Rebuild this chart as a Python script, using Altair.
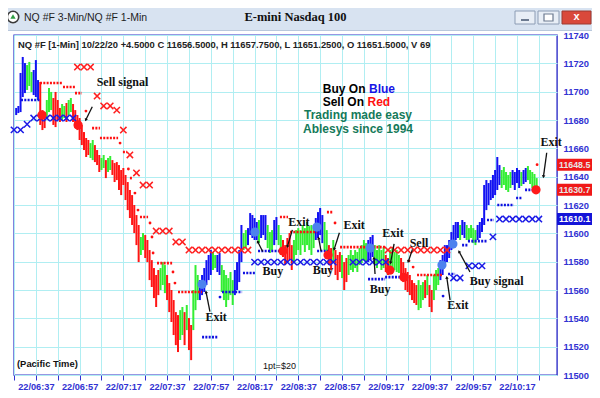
import math
import altair as alt
import pandas as pd

# ---------------- data ----------------
bar_start_minute = 388  # first 1-min bar, minutes after midnight (06:28)

bar_high = [
    11688.5, 11689.9, 11713.2, 11724.5, 11720.2, 11718.8, 11721.0, 11713.9, 11715.3, 11722.3,
    11708.2, 11706.8, 11687.0, 11685.6, 11694.1, 11702.6, 11699.8, 11695.5, 11699.8, 11694.1,
    11688.5, 11691.3, 11689.9, 11692.0, 11694.1, 11695.5, 11691.3, 11687.0, 11683.5, 11681.4,
    11676.5, 11671.5, 11667.3, 11665.9, 11663.7, 11665.9, 11662.3, 11658.8, 11655.3, 11653.2,
    11655.3, 11651.7, 11653.2, 11654.6, 11651.7, 11649.6, 11650.3, 11648.2, 11644.7, 11646.1,
    11641.2, 11636.2, 11630.6, 11627.0, 11620.0, 11612.9, 11605.9, 11597.4, 11600.2, 11598.8,
    11595.3, 11588.2, 11581.1, 11575.5, 11570.6, 11574.1, 11575.5, 11579.7, 11577.6, 11570.6,
    11564.9, 11560.0, 11552.9, 11544.4, 11542.3, 11545.8, 11548.0, 11544.4, 11549.4, 11540.2,
    11535.3, 11560.0, 11577.6, 11570.6, 11567.0, 11570.6, 11575.5, 11581.1, 11584.7, 11588.2,
    11586.8, 11584.7, 11584.7, 11586.1, 11577.6, 11574.1, 11570.6, 11568.4, 11572.7, 11567.0,
    11574.1, 11579.7, 11588.2, 11605.9, 11600.2, 11602.3, 11603.7, 11614.3, 11612.9, 11610.8,
    11608.0, 11609.4, 11612.9, 11612.9, 11612.9, 11605.9, 11600.9, 11602.3, 11609.4, 11611.5,
    11605.9, 11598.8, 11595.3, 11591.7, 11596.7, 11600.2, 11591.7, 11595.3, 11602.3, 11603.7,
    11602.3, 11605.9, 11603.7, 11608.0, 11605.1, 11605.9, 11603.7, 11610.8, 11615.0, 11617.9,
    11612.9, 11608.0, 11602.3, 11591.7, 11589.6, 11595.3, 11588.2, 11584.7, 11586.8, 11584.7,
    11579.7, 11582.6, 11584.7, 11588.2, 11584.7, 11588.2, 11586.8, 11589.6, 11591.7, 11595.3,
    11593.1, 11595.3, 11597.4, 11598.8, 11591.7, 11588.2, 11591.7, 11588.2, 11590.3, 11584.7,
    11582.6, 11588.2, 11589.6, 11586.8, 11588.2, 11584.7, 11582.6, 11579.7, 11575.5, 11572.7,
    11570.6, 11567.0, 11564.9, 11563.5, 11567.0, 11563.5, 11565.6, 11567.0, 11570.6, 11563.5,
    11560.0, 11570.6, 11574.1, 11575.5, 11581.1, 11584.7, 11591.7, 11591.7, 11595.3, 11600.9,
    11605.9, 11608.0, 11608.0, 11605.9, 11609.4, 11608.0, 11605.9, 11603.7, 11605.9, 11603.7,
    11602.3, 11605.9, 11608.0, 11610.8, 11634.1, 11637.6, 11635.5, 11637.6, 11641.2, 11644.7,
    11653.9, 11648.2, 11644.7, 11646.8, 11643.3, 11641.2, 11643.3, 11644.7, 11643.3, 11646.1,
    11644.7, 11643.3, 11644.7, 11646.1, 11647.5, 11644.7, 11643.3, 11641.9, 11639.0,
]
bar_low = [
    11683.5, 11684.9, 11685.6, 11696.2, 11699.0, 11701.2, 11704.0, 11699.8, 11697.6, 11696.2,
    11694.1, 11676.5, 11672.9, 11674.3, 11681.4, 11685.6, 11687.0, 11676.5, 11675.0, 11680.0,
    11678.6, 11680.0, 11681.4, 11678.6, 11683.5, 11685.6, 11678.6, 11674.3, 11672.9, 11665.9,
    11662.3, 11658.8, 11653.9, 11655.3, 11653.2, 11651.7, 11650.3, 11648.2, 11643.3, 11644.7,
    11646.1, 11639.0, 11643.3, 11644.7, 11641.2, 11636.2, 11637.6, 11630.6, 11627.0, 11634.1,
    11623.5, 11616.4, 11610.8, 11605.9, 11600.2, 11591.7, 11579.7, 11584.7, 11588.2, 11582.6,
    11579.7, 11567.0, 11562.1, 11554.3, 11548.0, 11556.4, 11560.0, 11563.5, 11557.8, 11552.9,
    11544.4, 11537.4, 11528.2, 11521.1, 11516.2, 11524.7, 11528.2, 11521.1, 11531.7, 11517.6,
    11510.5, 11531.7, 11545.8, 11552.9, 11552.9, 11556.4, 11558.6, 11563.5, 11567.0, 11570.6,
    11574.1, 11575.5, 11572.7, 11570.6, 11558.6, 11552.9, 11548.0, 11552.9, 11556.4, 11549.4,
    11556.4, 11560.0, 11565.6, 11579.7, 11588.2, 11589.6, 11591.7, 11598.8, 11596.7, 11595.3,
    11595.3, 11593.1, 11596.7, 11598.8, 11595.3, 11589.6, 11586.1, 11588.2, 11591.7, 11595.3,
    11591.7, 11584.7, 11583.3, 11577.6, 11579.7, 11581.1, 11574.1, 11579.7, 11584.7, 11588.2,
    11584.7, 11591.7, 11586.8, 11591.7, 11588.2, 11584.7, 11589.6, 11595.3, 11596.7, 11598.8,
    11593.1, 11588.2, 11584.7, 11577.6, 11574.1, 11579.7, 11570.6, 11567.0, 11572.7, 11568.4,
    11560.0, 11565.6, 11570.6, 11574.1, 11572.7, 11575.5, 11572.7, 11577.6, 11579.0, 11581.1,
    11579.7, 11579.7, 11581.1, 11583.3, 11577.6, 11575.5, 11579.7, 11574.1, 11575.5, 11572.7,
    11570.6, 11574.1, 11575.5, 11574.1, 11572.7, 11572.0, 11568.4, 11565.6, 11560.0, 11558.6,
    11556.4, 11552.9, 11550.8, 11549.4, 11545.8, 11547.3, 11552.9, 11554.3, 11556.4, 11548.0,
    11544.4, 11552.9, 11560.0, 11563.5, 11567.0, 11570.6, 11577.6, 11579.7, 11582.6, 11588.2,
    11591.7, 11595.3, 11596.7, 11595.3, 11598.8, 11596.7, 11595.3, 11593.9, 11596.7, 11593.1,
    11591.7, 11595.3, 11596.7, 11600.9, 11605.9, 11616.4, 11620.0, 11623.5, 11624.9, 11627.0,
    11630.6, 11634.1, 11632.0, 11634.1, 11630.6, 11629.2, 11632.0, 11634.1, 11630.6, 11635.5,
    11632.0, 11633.4, 11634.8, 11636.2, 11637.6, 11634.8, 11632.0, 11632.0, 11630.6,
]
bar_color_code = "".join([
    "BBBBB", "GGG", "BBB", "RRR", "GGG", "RRRR", "GG", "R", "GG", "RRRRRRRR",
    "GG", "RRR", "GG", "R", "GG", "RRRRRRRRRRRRR", "GG", "RRRRRRR", "GGG", "RRRRRR",
    "GG", "R", "G", "RR", "GGG", "BBBBBB", "GG", "BB", "GGGGGG", "BBBB",
    "GG", "BBBBB", "G", "BBB", "GGG", "BB", "GG", "RRRRR", "GGGGGGGGGG", "BBBB",
    "GG", "RR", "G", "RRR", "G", "RR", "GGGGGGGGG", "BBB", "GGGGG", "RR",
    "GGGGG", "RRRRRRRR", "GGG", "R", "G", "RR", "GGG", "BBBBBBBBB", "G", "BB",
    "GGGGG", "BBBBBBBBBBB", "GGGGG", "BBBB", "G", "BB", "GGGGG",
])

# trailing-stop crosses (3-min series)
red_x_t = [416, 419, 422, 425, 428, 431, 434, 437, 440, 443, 446, 449, 452, 455, 458,
           461, 464, 467, 470, 473, 476, 479, 482, 485, 488, 491, 494,
           558, 561, 564, 567, 570, 573, 576, 579, 582, 585]
red_x_p = [11717.4, 11717.4, 11717.4, 11696.9, 11689.9, 11689.9, 11687.0, 11672.9, 11655.3,
           11642.6, 11634.1, 11634.1, 11601.6, 11601.6, 11601.6, 11593.9, 11593.9,
           11588.2, 11588.2, 11588.2, 11588.2, 11588.2, 11588.2, 11588.2, 11588.2, 11588.2, 11588.2,
           11588.2, 11588.2, 11588.2, 11588.2, 11588.2, 11588.2, 11588.2, 11588.2, 11588.2, 11588.2]
blue_x_t = [387, 390, 393, 396, 399, 402, 405, 408, 411, 414,
            497, 500, 503, 506, 509, 512, 515, 518, 521, 524, 527, 530, 533,
            542, 545, 548, 551, 554, 557,
            588, 591, 595, 598, 601, 606, 609, 612, 615, 618, 621, 624, 627]
blue_x_p = [11673.0, 11673.0, 11677.0, 11681.4, 11681.4, 11681.4, 11681.4, 11681.4, 11681.4, 11681.4,
            11579.7, 11579.7, 11579.7, 11579.7, 11579.7, 11579.7, 11579.7, 11579.7, 11579.7, 11579.7,
            11579.7, 11579.7, 11579.7,
            11579.7, 11579.7, 11579.7, 11579.7, 11579.7, 11579.7,
            11568.5, 11568.5, 11577.0, 11577.0, 11577.0, 11597.5,
            11610.1, 11610.1, 11610.1, 11610.1, 11610.1, 11610.1, 11610.1]

# dotted level segments (start minute, end minute, level)
red_seg_start = [398.9, 409.4, 414.9, 422.7, 426.3, 436.8, 440.0, 444.6, 452.4, 462.0,
                 508.6, 513.2, 530.1, 536.1, 571.3]
red_seg_end = [409.4, 414.9, 418.1, 426.3, 434.6, 438.7, 441.4, 448.3, 459.3, 473.0,
               512.3, 525.6, 532.9, 556.7, 582.7]
red_seg_level = [11706.1, 11703.3, 11699.0, 11674.3, 11667.3, 11657.4, 11639.0, 11611.5, 11579.0, 11558.6,
                 11611.5, 11600.9, 11615.0, 11590.3, 11570.6]
red_dot_t = [419.9, 435.5, 439.3, 442.3, 443.7, 449.2, 450.1, 450.6, 459.7, 460.6, 533.8, 567.6, 569.5, 626.2]
red_dot_p = [11686.3, 11663.7, 11645.4, 11628.4, 11616.4, 11607.3, 11597.4, 11586.1, 11572.7, 11564.9,
             11607.3, 11580.5, 11576.2, 11648.5]

blue_seg_start = [390.2, 473.0, 482.1, 491.7, 498.6, 525.6, 548.9, 556.7, 585.5, 591.9, 594.6, 603.3, 608.0, 616.6, 620.7]
blue_seg_end = [398.9, 480.3, 491.3, 497.2, 510.0, 530.6, 556.7, 563.5, 588.7, 594.6, 603.3, 606.5, 615.6, 619.3, 625.7]
blue_seg_level = [11694.1, 11526.7, 11558.6, 11572.0, 11587.5, 11587.5, 11567.7, 11569.1, 11571.3, 11591.7,
                  11594.5, 11609.4, 11620.0, 11624.9, 11630.7]
blue_dot_t = [481.2, 583.2]
blue_dot_p = [11555.0, 11555.7]

# signal circles
red_sig_t = [399.8, 416.3, 510.0, 530.6, 558.9, 565.3, 625.7]
red_sig_p = [11683.5, 11676.5, 11587.5, 11584.7, 11574.0, 11569.0, 11630.7]
blue_sig_t = [473.0, 497.2, 525.5, 549.8, 582.7, 587.7]
blue_sig_p = [11564.0, 11600.9, 11604.4, 11589.6, 11577.6, 11592.4]

# annotations
ann_text = ["Sell signal", "Exit", "Buy", "Exit", "Buy", "Exit", "Exit", "Buy", "Sell", "Exit", "Buy signal", "Exit"]
ann_t = [436.6, 479.4, 505.4, 517.3, 528.3, 542.5, 560.3, 554.4, 572.2, 590.0, 607.7, 632.6]
ann_p = [11706.8, 11540.9, 11573.4, 11608.0, 11574.1, 11605.9, 11600.2, 11560.7, 11593.1, 11549.4, 11566.3, 11664.2]
arr_t0 = [422.8, 476.6, 500.7, 514.3, 527.4, 535.8, 560.8, 552.1, 569.2, 586.4, 595.5, 630.6]
arr_p0 = [11689.4, 11544.7, 11587.2, 11602.4, 11587.5, 11600.4, 11592.5, 11571.3, 11588.7, 11552.9, 11572.7, 11656.9]
arr_t1 = [419.8, 474.8, 498.4, 512.0, 526.3, 533.4, 559.2, 551.6, 567.3, 584.9, 590.5, 629.1]
arr_p1 = [11680.0, 11558.6, 11594.2, 11590.6, 11596.7, 11588.7, 11579.1, 11582.6, 11580.0, 11568.9, 11587.2, 11640.0]

# price flags on the right
flag_value = [11648.5, 11630.7, 11610.1]
flag_label = ["11648.5", "11630.7", "11610.1"]
flag_fill = ["#f01818", "#f01818", "#1414d8"]
flag_text = ["#e6e6e6", "#e6e6e6", "#ffffff"]

# axes
x_tick_values = list(range(387, 636, 10))
x_label_values = [397, 417, 437, 457, 477, 497, 517, 537, 557, 577, 597, 617]
x_labels = ["22/06:37", "22/06:57", "22/07:17", "22/07:37", "22/07:57", "22/08:17",
            "22/08:37", "22/08:57", "22/09:17", "22/09:37", "22/09:57", "22/10:17"]
y_tick_values = list(range(11500, 11741, 20))

# ---------------- styling ----------------
W, H = 543, 340
X_DOM = [387, 635.3]
Y_DOM = [11500, 11740]
PX_MIN = W / (X_DOM[1] - X_DOM[0])
PX_PT = H / (Y_DOM[1] - Y_DOM[0])
AXBLUE = "#3232d2"
BORDER = "#3030c8"
GRID = "#b0eef2"
SANS = "Liberation Sans"
SERIF = "Liberation Serif"

n = min(len(bar_high), len(bar_low), len(bar_color_code))
bars = pd.DataFrame({
    "t": [bar_start_minute + i for i in range(n)],
    "hi": bar_high[:n], "lo": bar_low[:n], "c": list(bar_color_code[:n]),
})

lab_expr = ("indexof(" + str(x_label_values) + ", datum.value) >= 0 ? "
            + str(x_labels).replace("'", '"') + "[indexof(" + str(x_label_values) + ", datum.value)] : ''")

xs = alt.Scale(domain=X_DOM, nice=False, zero=False)
ys = alt.Scale(domain=Y_DOM, nice=False, zero=False)
x_axis = alt.Axis(values=x_tick_values, labelExpr=lab_expr, orient="bottom", grid=True,
                  gridColor=GRID, tickColor=AXBLUE, tickSize=5, domain=False,
                  labelColor=AXBLUE, labelFont=SANS, labelFontWeight="bold", labelFontSize=9.2,
                  labelPadding=2, labelFlush=False, labelOverlap=False, title=None)
y_axis = alt.Axis(values=y_tick_values, orient="right", grid=True, gridColor=GRID, ticks=False,
                  domain=False, labelColor=AXBLUE, labelFont=SANS, labelFontWeight="bold",
                  labelFontSize=9.4, labelPadding=6, labelFlush=False, labelOverlap=False,
                  format="d", title=None)


def X(f):
    return alt.X(f, type="quantitative", scale=xs, axis=x_axis)


def Y(f):
    return alt.Y(f, type="quantitative", scale=ys, axis=y_axis)


one = pd.DataFrame({"k": [0]})


def label(txt, x, y, **kw):
    return alt.Chart(one).mark_text(**kw).encode(x=alt.value(x), y=alt.value(y), text=alt.value(txt))


def box(x1, x2, y1, y2, **kw):
    return alt.Chart(one).mark_rect(**kw).encode(x=alt.value(x1), x2=alt.value(x2),
                                                 y=alt.value(y1), y2=alt.value(y2))


layers = []

# price bars
layers.append(alt.Chart(bars).mark_rule(strokeWidth=2).encode(
    x=X("t"), y=Y("hi"), y2="lo",
    color=alt.Color("c:N", scale=alt.Scale(domain=["B", "G", "R"],
                                           range=["#1212f2", "#33ee33", "#ff1414"]), legend=None)))

# dotted levels
for s, e, lv, col in [(red_seg_start, red_seg_end, red_seg_level, "#ff1010"),
                      (blue_seg_start, blue_seg_end, blue_seg_level, "#1010e0")]:
    df = pd.DataFrame({"s": s, "e": e, "v": lv})
    layers.append(alt.Chart(df).mark_rule(strokeWidth=2.6, strokeDash=[2, 1.3], color=col).encode(
        x=X("s"), x2="e", y=Y("v")))
for tt, pp, col in [(red_dot_t, red_dot_p, "#ff1010"), (blue_dot_t, blue_dot_p, "#1010e0")]:
    df = pd.DataFrame({"t": tt, "p": pp})
    layers.append(alt.Chart(df).mark_circle(size=8, opacity=1, color=col).encode(x=X("t"), y=Y("p")))

# crosses
for tt, pp, col in [(red_x_t, red_x_p, "#ff2020"), (blue_x_t, blue_x_p, "#1a1ae6")]:
    df = pd.DataFrame({"t": tt, "p": pp})
    layers.append(alt.Chart(df).mark_point(shape="M-1,-1L1,1M1,-1L-1,1", filled=False, size=40,
                                           strokeWidth=1.5, opacity=1, color=col).encode(x=X("t"), y=Y("p")))

# signal circles
for tt, pp, col in [(red_sig_t, red_sig_p, "#ff1a1a"), (blue_sig_t, blue_sig_p, "#4d82ee")]:
    df = pd.DataFrame({"t": tt, "p": pp})
    layers.append(alt.Chart(df).mark_circle(size=85, opacity=1, color=col).encode(x=X("t"), y=Y("p")))

# arrows
ang = []
for t0, p0, t1, p1 in zip(arr_t0, arr_p0, arr_t1, arr_p1):
    dx = (t1 - t0) * PX_MIN
    dy = -(p1 - p0) * PX_PT
    ang.append(math.degrees(math.atan2(dx, -dy)) % 360)
arrows = pd.DataFrame({"t0": arr_t0, "p0": arr_p0, "t1": arr_t1, "p1": arr_p1, "a": ang})
layers.append(alt.Chart(arrows).mark_rule(strokeWidth=1.3, color="#111111").encode(
    x=X("t0"), x2="t1", y=Y("p0"), y2="p1"))
layers.append(alt.Chart(arrows).mark_point(shape="triangle-up", filled=True, size=12, opacity=1,
                                           color="#111111").encode(
    x=X("t1"), y=Y("p1"), angle=alt.Angle("a:Q", scale=None)))

# annotation text
ann = pd.DataFrame({"t": ann_t, "p": ann_p, "s": ann_text})
layers.append(alt.Chart(ann).mark_text(font=SERIF, fontWeight="bold", fontSize=12, color="#111111").encode(
    x=X("t"), y=Y("p"), text="s:N"))

# right-hand price flags
flags = pd.DataFrame({"v": flag_value, "s": flag_label, "f": flag_fill, "c": flag_text})
layers.append(alt.Chart(flags).mark_rect(yOffset=-6, y2Offset=6).encode(
    x=alt.value(543), x2=alt.value(580), y=Y("v"), y2="v", color=alt.Color("f:N", scale=None)))
layers.append(alt.Chart(flags).mark_text(align="left", font=SANS, fontWeight="bold", fontSize=8.8).encode(
    x=alt.value(545), y=Y("v"), text="s:N", color=alt.Color("c:N", scale=None)))

# in-chart texts
layers.append(label("NQ #F [1-Min] 10/22/20  +4.5000 C 11656.5000, H 11657.7500, L 11651.2500, O 11651.5000, V 69",
                    4, 9.5, align="left", font=SANS, fontWeight="bold", fontSize=9.4, color="#222222"))
layers.append(label("Buy On", 351.5, 54, align="right", font=SANS, fontWeight="bold", fontSize=12, color="#000000"))
layers.append(label("Blue", 355, 54, align="left", font=SANS, fontWeight="bold", fontSize=12, color="#1515e6"))
layers.append(label("Sell On", 350, 67, align="right", font=SANS, fontWeight="bold", fontSize=12, color="#000000"))
layers.append(label("Red", 353.5, 67, align="left", font=SANS, fontWeight="bold", fontSize=12, color="#ff1010"))
layers.append(label("Trading made easy", 344, 80, align="center", font=SANS, fontWeight="bold", fontSize=12, color="#157a5a"))
layers.append(label("Ablesys since 1994", 344, 94, align="center", font=SANS, fontWeight="bold", fontSize=12, color="#157a5a"))
layers.append(label("(Pacific Time)", 3, 329, align="left", font=SANS, fontWeight="bold", fontSize=9.4, color="#111111"))
layers.append(label("1pt=$20", 265.5, 331, align="center", font=SANS, fontSize=9, color="#111111"))

# window title bar
layers.append(box(-6, 578, -27, -5, color="#d8e3f1"))
layers.append(box(-6, 578, -5, -4, color="#b9c8dc"))
layers.append(alt.Chart(one).mark_circle(size=130, opacity=1, color="#ffffff", stroke="#3a3a3a", strokeWidth=1.6)
              .encode(x=alt.value(-1), y=alt.value(-18)))
layers.append(alt.Chart(one).mark_point(shape="triangle-up", filled=True, size=28, opacity=1, color="#2f9e44")
              .encode(x=alt.value(-1), y=alt.value(-18.5)))
layers.append(label("NQ #F 3-Min/NQ #F 1-Min", 10, -17, align="left", font=SANS, fontSize=10.5, color="#1e1e1e"))
layers.append(label("E-mini Nasdaq 100", 281.5, -18.5, align="center", font=SERIF, fontWeight="bold",
                    fontSize=12.5, color="#111111"))
layers.append(box(501, 521, -24, -11, color="#e8eef6", stroke="#8c9cb4", strokeWidth=1))
layers.append(box(507, 515, -16, -14, color="#6c7a90"))
layers.append(box(524, 545, -24, -11, color="#e8eef6", stroke="#8c9cb4", strokeWidth=1))
layers.append(box(530, 539, -21, -14, color="#ffffff", stroke="#6c7a90", strokeWidth=1.2))
layers.append(box(548, 577, -24, -11, color="#d9493b", stroke="#9c3a30", strokeWidth=1))
layers.append(label("x", 562.5, -18, align="center", font=SANS, fontWeight="bold", fontSize=11, color="#ffffff"))

chart = alt.layer(*layers).properties(
    width=W, height=H,
    padding={"left": 6, "top": 27, "right": 35, "bottom": 15},
    autosize=alt.AutoSizeParams(type="none"),
    background="white",
).configure_view(stroke=BORDER, strokeWidth=1.4, fill="white")

chart.save("out.html", embed_options={"renderer": "svg", "actions": False})
